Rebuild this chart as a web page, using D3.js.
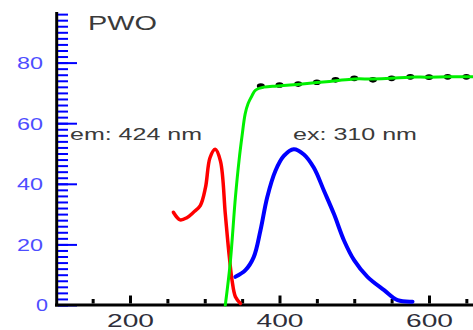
<!DOCTYPE html>
<html>
<head>
<meta charset="utf-8">
<script src="https://cdn.jsdelivr.net/npm/d3@7"></script>
<style>
html,body{margin:0;padding:0;background:#fff;}
svg{display:block;}
text{font-family:"Liberation Sans",Arial,Helvetica,sans-serif;}
</style>
</head>
<body>
<svg id="chart" width="473" height="330"></svg>
<script>
// ---- data ----
const redX   = [258, 267, 276, 285, 294, 301, 307, 314, 321, 327.5, 332, 336.5, 341, 347.7];
const redY   = [30.6, 28.1, 28.8, 30.6, 32.8, 38.8, 48.6, 51.4, 47.5, 30, 18, 8.2, 2.7, 0.5];
const blueX  = [341, 354.4, 365.5, 374.5, 383.5, 394.6, 405.8, 419, 432.6, 446, 459.5, 472.9, 486.3, 499.8, 517.7, 540, 558, 578];
const blueY  = [9.3, 11.5, 15.8, 24.6, 35.5, 44.3, 49.2, 51.4, 49.7, 45.3, 37.7, 30, 21.3, 14.8, 9.3, 4.9, 1.6, 1.1];
const greenX = [327.5, 334, 341, 346, 350, 354, 358, 363, 368, 379, 397, 424, 450, 475, 500, 524, 549, 574, 598, 625, 650, 662];
const greenY = [0, 13.7, 35.5, 48, 56, 63, 66.5, 69, 70.9, 71.9, 72.3, 72.8, 73.4, 74.0, 74.6, 74.6, 74.8, 75.2, 75.2, 75.3, 75.3, 75.4];
const dotX   = [375, 400, 425, 450, 475, 500, 525, 550, 575, 600, 625, 650];
const dotY   = [72.3, 72.6, 72.9, 73.5, 74.3, 74.8, 74.3, 74.8, 75.3, 75.2, 75.3, 75.3];
const xMajorTicks = [200, 400, 600];
const xMinorTicks = [150, 250, 300, 350, 450, 500, 550, 650];
const yMajorTicks = [0, 20, 40, 60, 80];
const yMinorTicks = d3.range(0, 97, 2);
const title = "PWO";
const emLabel = "em: 424 nm";
const exLabel = "ex: 310 nm";

// ---- scales ----
const svg = d3.select("#chart");
const x = d3.scaleLinear().domain([102.3, 658.9]).range([57, 473]);
const y = d3.scaleLinear().domain([0, 96.7]).range([305, 12]);

// ---- y axis ----
const yMinorAxis = d3.axisLeft(y).tickValues(yMinorTicks).tickSize(-10).tickFormat("");
const gyMinor = svg.append("g").attr("transform", "translate(58,0)").call(yMinorAxis);
gyMinor.select(".domain").remove();
gyMinor.selectAll(".tick line").attr("stroke", "#0000ff").attr("stroke-width", 2);

const yMajorAxis = d3.axisLeft(y).tickValues(yMajorTicks).tickSize(-19).tickPadding(14);
const gyMajor = svg.append("g").attr("transform", "translate(58,0)").call(yMajorAxis);
gyMajor.select(".domain").remove();
gyMajor.selectAll(".tick line").attr("stroke", "#0000ff").attr("stroke-width", 2);
gyMajor.selectAll(".tick text")
  .attr("x", d => d === 0 ? -10 : -15)
  .attr("dy", "0.36em")
  .attr("fill", "#4d4dff")
  .attr("font-size", 16.5)
  .attr("font-family", "Liberation Sans, Arial, sans-serif")
  .attr("textLength", d => d === 0 ? 12 : 26)
  .attr("lengthAdjust", "spacingAndGlyphs");

svg.append("line").attr("x1", 56.7).attr("x2", 56.7).attr("y1", y(96.7)).attr("y2", 306.5)
  .attr("stroke", "#000").attr("stroke-width", 3);

// ---- x axis ----
const xMinorAxis = d3.axisBottom(x).tickValues(xMinorTicks).tickSize(-4.5).tickFormat("");
const gxMinor = svg.append("g").attr("transform", "translate(0,303.5)").call(xMinorAxis);
gxMinor.select(".domain").remove();
gxMinor.selectAll(".tick line").attr("stroke", "#000").attr("stroke-width", 3);

const xMajorAxis = d3.axisBottom(x).tickValues(xMajorTicks).tickSize(-8).tickPadding(6);
const gxMajor = svg.append("g").attr("transform", "translate(0,303.5)").call(xMajorAxis);
gxMajor.select(".domain").remove();
gxMajor.selectAll(".tick line").attr("stroke", "#000").attr("stroke-width", 3);
gxMajor.selectAll(".tick text")
  .attr("y", 23.5).attr("dy", 0)
  .attr("fill", "#2e2e3a")
  .attr("font-size", 19)
  .attr("font-family", "Liberation Sans, Arial, sans-serif")
  .attr("textLength", 47)
  .attr("lengthAdjust", "spacingAndGlyphs");

svg.append("line").attr("x1", 55).attr("x2", 473).attr("y1", 305).attr("y2", 305)
  .attr("stroke", "#000").attr("stroke-width", 3);

// ---- curves ----
const line = d3.line().x(d => x(d[0])).y(d => y(d[1])).curve(d3.curveCatmullRom.alpha(0.5));
const zip = (a, b) => a.map((v, i) => [v, b[i]]);

svg.append("path").datum(zip(redX, redY)).attr("d", line)
  .attr("fill", "none").attr("stroke", "#ff0000").attr("stroke-width", 3.5)
  .attr("stroke-linejoin", "round").attr("stroke-linecap", "round");

svg.append("path").datum(zip(blueX, blueY)).attr("d", line)
  .attr("fill", "none").attr("stroke", "#0000ff").attr("stroke-width", 4)
  .attr("stroke-linejoin", "round").attr("stroke-linecap", "round");

svg.selectAll("ellipse.dot").data(zip(dotX, dotY)).enter().append("ellipse")
  .attr("class", "dot")
  .attr("cx", d => x(d[0])).attr("cy", d => y(d[1]))
  .attr("rx", 4).attr("ry", 2.8).attr("fill", "#000");

svg.append("path").datum(zip(greenX, greenY)).attr("d", line)
  .attr("fill", "none").attr("stroke", "#00f000").attr("stroke-width", 3)
  .attr("stroke-linejoin", "round").attr("stroke-linecap", "round");

// ---- text ----
svg.append("text").attr("x", 88).attr("y", 30).attr("font-size", 21)
  .attr("fill", "#3a3a3a").attr("textLength", 69).attr("lengthAdjust", "spacingAndGlyphs")
  .text(title);
svg.append("text").attr("x", 70).attr("y", 140).attr("font-size", 16.5)
  .attr("fill", "#3a3a3a").attr("textLength", 132).attr("lengthAdjust", "spacingAndGlyphs")
  .text(emLabel);
svg.append("text").attr("x", 293).attr("y", 140).attr("font-size", 16.5)
  .attr("fill", "#3a3a3a").attr("textLength", 124).attr("lengthAdjust", "spacingAndGlyphs")
  .text(exLabel);
</script>
</body>
</html>
